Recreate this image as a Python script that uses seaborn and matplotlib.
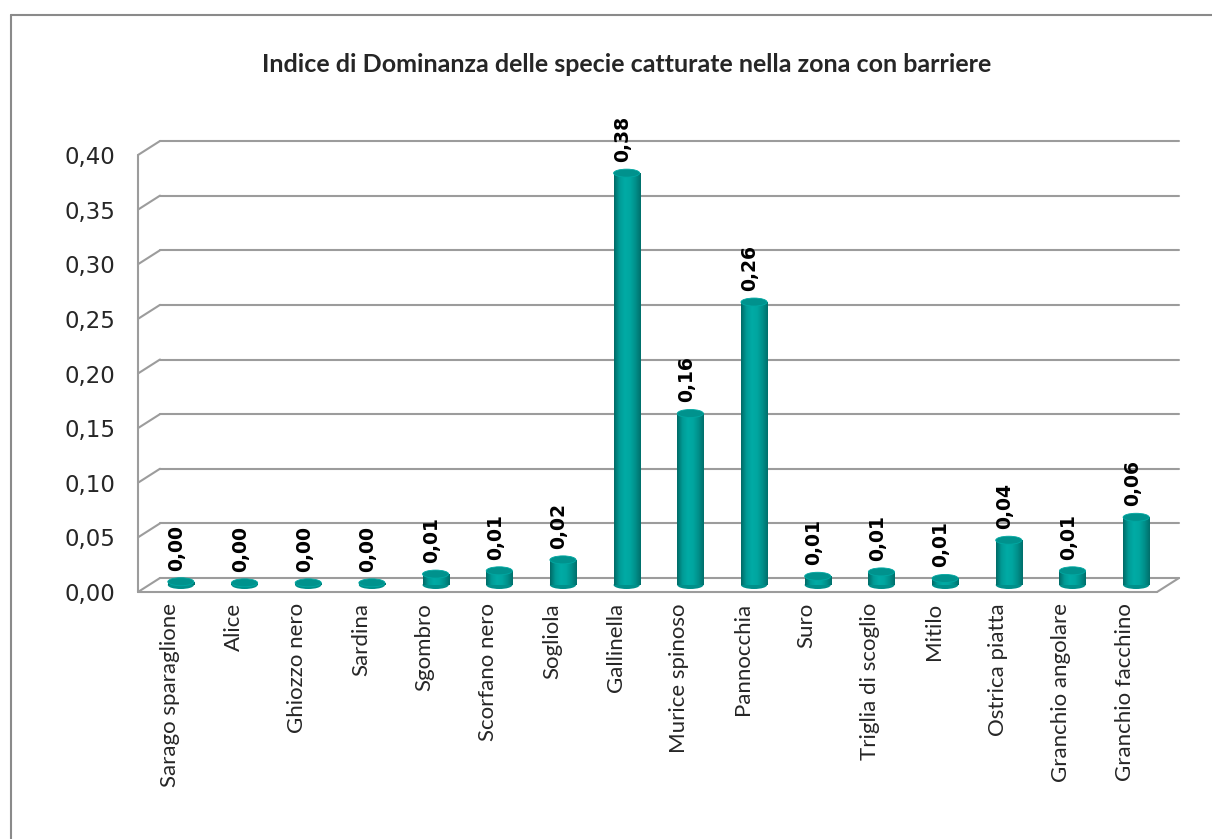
import matplotlib
matplotlib.use("Agg")
import matplotlib.pyplot as plt
import matplotlib.transforms as mtransforms
from matplotlib.colors import LinearSegmentedColormap
from matplotlib.lines import Line2D
from matplotlib.patches import Ellipse
import numpy as np
import pandas as pd
import seaborn as sns

species = [
    "Sarago sparaglione", "Alice", "Ghiozzo nero", "Sardina", "Sgombro",
    "Scorfano nero", "Sogliola", "Gallinella", "Murice spinoso", "Pannocchia",
    "Suro", "Triglia di scoglio", "Mitilo", "Ostrica piatta",
    "Granchio angolare", "Granchio facchino",
]
dominance = [
    0.003, 0.002, 0.002, 0.002, 0.010, 0.013, 0.023, 0.377, 0.157, 0.259,
    0.008, 0.012, 0.006, 0.041, 0.013, 0.062,
]
y_ticks = [0.00, 0.05, 0.10, 0.15, 0.20, 0.25, 0.30, 0.35, 0.40]
title = "Indice di Dominanza delle specie catturate nella zona con barriere"

df = pd.DataFrame({"specie": species, "dominanza": dominance})

W, H, DPI = 1212, 839, 100
sns.set_style("white")
fig = plt.figure(figsize=(W / DPI, H / DPI), dpi=DPI)

# front plane of the 3D box, in pixels
left, right, bottom, top = 138, 1157, 592, 155
ax = fig.add_axes([left / W, (H - bottom) / H, (right - left) / W, (bottom - top) / H])

sns.barplot(data=df, x="specie", y="dominanza", color="#009a95", width=0.41,
            ax=ax, zorder=3)
n = len(species)
ax.set_xlim(-0.5, n - 0.5)
ax.set_ylim(0, 0.40)
for s in ax.spines.values():
    s.set_visible(False)

px_cat = (right - left) / n
px_unit = (bottom - top) / 0.40


def shift(dx, dy):
    return ax.transData + mtransforms.ScaledTranslation(dx / DPI, dy / DPI, fig.dpi_scale_trans)


back = shift(22, 14)
mid = shift(11, 7)
grid_c = "#9c9c9c"
lw = 1.5
ddx, ddy = 22 / px_cat, 14 / px_unit

# back wall gridlines + left wall diagonals
for v in y_ticks:
    ax.plot([-0.5, n - 0.5], [v, v], color=grid_c, lw=lw, transform=back,
            clip_on=False, zorder=1)
    ax.plot([-0.5, -0.5 + ddx], [v, v + ddy], color=grid_c, lw=lw,
            clip_on=False, zorder=1)
# left wall front edge, floor front edge and right floor diagonal
ax.plot([-0.5, -0.5], [0, 0.40], color=grid_c, lw=lw, clip_on=False, zorder=1)
ax.plot([-0.5, n - 0.5], [0, 0], color=grid_c, lw=lw, clip_on=False, zorder=1)
ax.plot([n - 0.5, n - 0.5 + ddx], [0, ddy], color=grid_c, lw=lw, clip_on=False, zorder=1)

# cylinders
cyl = LinearSegmentedColormap.from_list(
    "cyl", ["#006b67", "#009b96", "#00aba5", "#00a6a0", "#00908b", "#00706c"])
grad = np.linspace(0, 1, 64).reshape(1, -1)
ell_h = 8 / px_unit
for patch, v in zip(list(ax.patches), dominance):
    x0, w = patch.get_x(), patch.get_width()
    xc = x0 + w / 2
    patch.set_transform(mid)
    patch.set_edgecolor("none")
    ax.add_patch(Ellipse((xc, 0), w, ell_h, transform=mid, facecolor="#008f8a",
                         edgecolor="none", zorder=2.5, clip_on=False))
    im = ax.imshow(grad, extent=[x0, x0 + w, 0, v], transform=mid, cmap=cyl,
                   aspect="auto", zorder=3.5, clip_on=True)
    im.set_clip_path(patch)
    ax.add_patch(Ellipse((xc, v), w, ell_h, transform=mid, facecolor="#00928d",
                         edgecolor="#00a8a2", lw=0.6, zorder=4, clip_on=False))
    ax.text(xc, v, f"{v:.2f}".replace(".", ","), rotation=90, ha="center",
            va="bottom", fontsize=13.5, fontweight="bold", color="black",
            family="DejaVu Sans", transform=shift(7, 18), clip_on=False,
            zorder=5)

ax.set_xlim(-0.5, n - 0.5)
ax.set_ylim(0, 0.40)
ax.set_xlabel("")
ax.set_ylabel("")
ax.set_yticks(y_ticks)
ax.set_yticklabels([f"{t:.2f}".replace(".", ",") for t in y_ticks],
                   fontsize=16.5, family="DejaVu Sans")
ax.set_xticks(range(n))
ax.set_xticklabels(species, rotation=90, fontsize=16, family="Lato")
ax.tick_params(axis="y", length=0, pad=16.5)
ax.tick_params(axis="x", length=0, pad=8)

fig.text(627 / W, 1 - 65 / H, title, ha="center", va="center", fontsize=18,
         fontweight="bold", family="Lato")

# outer chart border (top and left visible)
fig.add_artist(Line2D([11 / W, 11 / W], [0, 1 - 15 / H], color="#8a8a8a", lw=1.5))
fig.add_artist(Line2D([11 / W, 1], [1 - 15 / H, 1 - 15 / H], color="#8a8a8a", lw=1.5))

fig.savefig("out.png", dpi=DPI)
plt.close(fig)
